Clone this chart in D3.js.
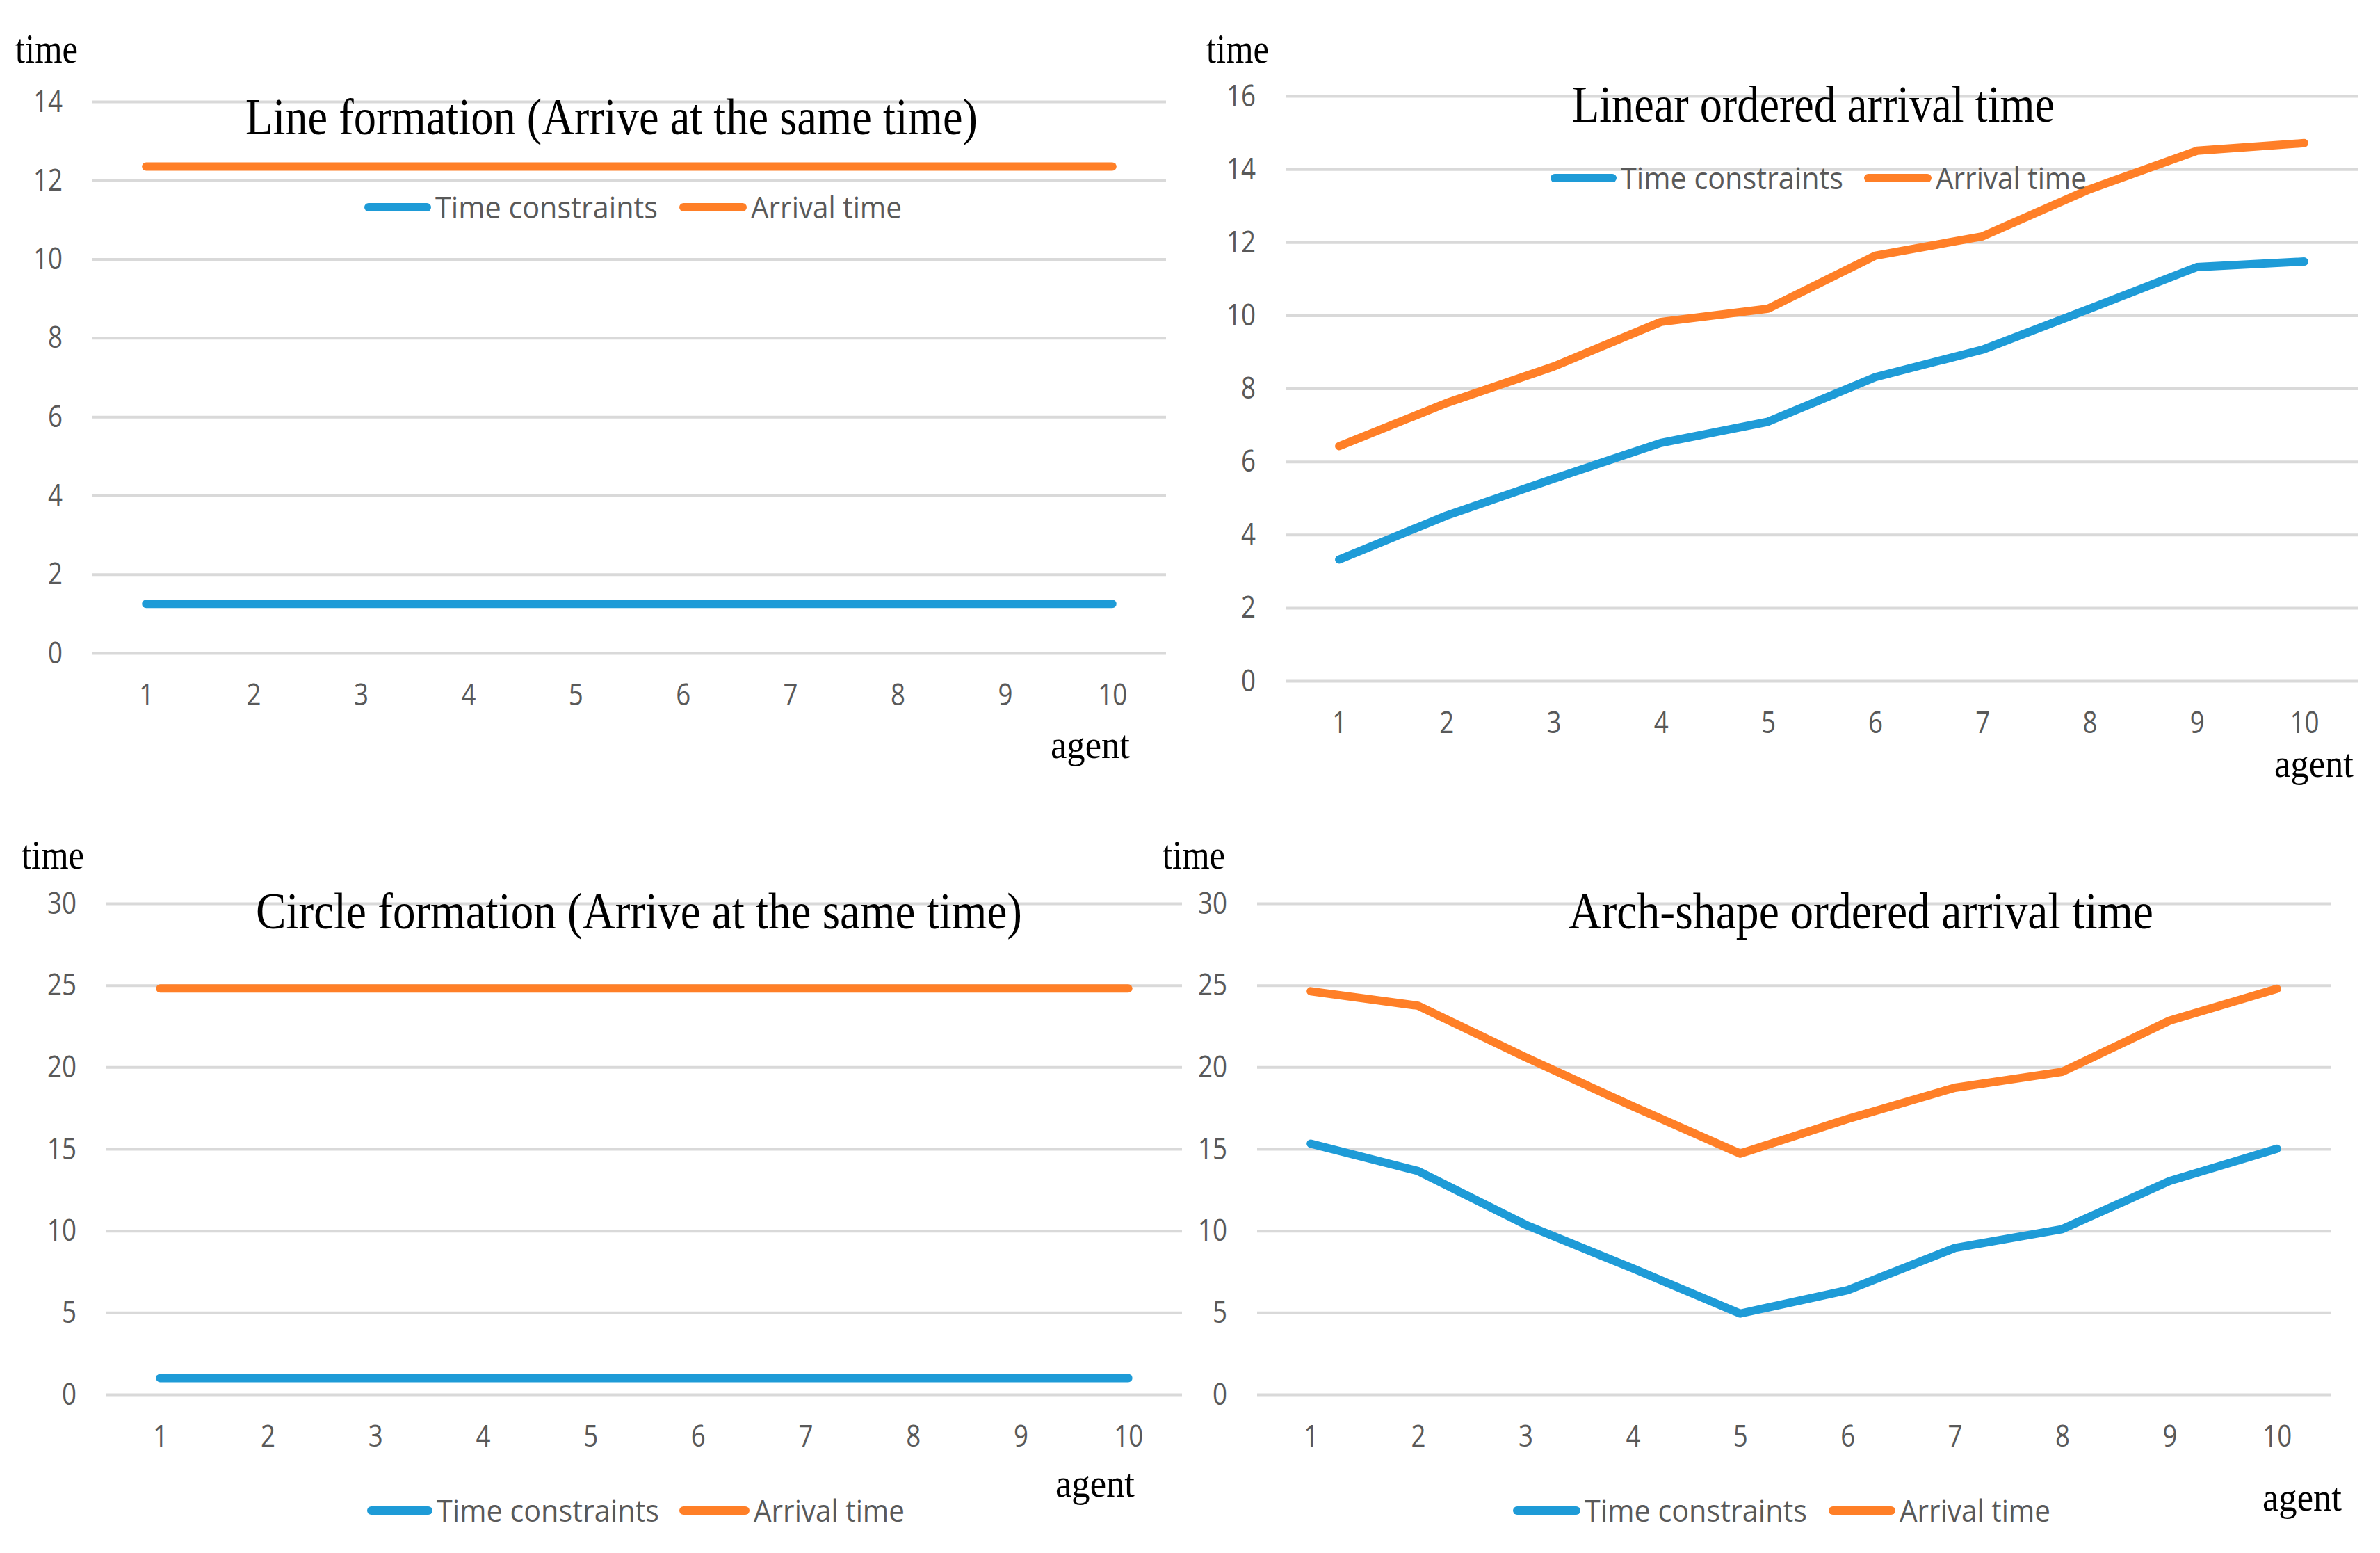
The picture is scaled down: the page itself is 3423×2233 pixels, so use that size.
<!DOCTYPE html>
<html>
<head>
<meta charset="utf-8">
<script src="https://cdn.jsdelivr.net/npm/d3@7"></script>
<style>
  body { margin: 0; background: #fff; }
  svg { display: block; }
  .tick text { font-family: "Open Sans", "Noto Sans", sans-serif; fill: #595959; }
  .serif { font-family: "Liberation Serif", "Times New Roman", serif; fill: #000; }
</style>
</head>
<body>
<svg id="chart" width="3423" height="2233"></svg>
<script>
// ---------- Data ----------
const agents = [1, 2, 3, 4, 5, 6, 7, 8, 9, 10];
const seriesNames = ["Time constraints", "Arrival time"];

const lineConstraints = [1.25, 1.25, 1.25, 1.25, 1.25, 1.25, 1.25, 1.25, 1.25, 1.25];
const lineArrival     = [12.35, 12.35, 12.35, 12.35, 12.35, 12.35, 12.35, 12.35, 12.35, 12.35];

const linearConstraints = [3.32, 4.52, 5.53, 6.51, 7.09, 8.31, 9.06, 10.18, 11.32, 11.47];
const linearArrival     = [6.42, 7.6, 8.6, 9.82, 10.18, 11.63, 12.16, 13.45, 14.5, 14.71];

const circleConstraints = [1.0, 1.0, 1.0, 1.0, 1.0, 1.0, 1.0, 1.0, 1.0, 1.0];
const circleArrival     = [24.8, 24.8, 24.8, 24.8, 24.8, 24.8, 24.8, 24.8, 24.8, 24.8];

const archConstraints = [15.32, 13.65, 10.37, 7.7, 4.94, 6.37, 8.95, 10.1, 13.04, 15.01];
const archArrival     = [24.63, 23.75, 20.6, 17.6, 14.71, 16.83, 18.74, 19.71, 22.84, 24.78];

const ticksSmall = [0, 2, 4, 6, 8, 10, 12, 14];
const ticksLinear = [0, 2, 4, 6, 8, 10, 12, 14, 16];
const ticksBig = [0, 5, 10, 15, 20, 25, 30];

const titles = [
  "Line formation (Arrive at the same time)",
  "Linear ordered arrival time",
  "Circle formation (Arrive at the same time)",
  "Arch-shape ordered arrival time"
];

const BLUE = "#1E9BD7", ORANGE = "#FF7F27";

// ---------- Panels (layout only) ----------
const panels = [
  { a: lineConstraints, b: lineArrival, ticks: ticksSmall, title: titles[0],
    gx: [133, 1677], gy: [939, 146],
    tt: [353, 193, 1053], time: [22, 90], agent: [1511, 1090],
    leg: [298, 524, 626, 977, 1080] },
  { a: linearConstraints, b: linearArrival, ticks: ticksLinear, title: titles[1],
    gx: [1849, 3391], gy: [979, 138],
    tt: [2261, 175, 694], time: [1735, 90], agent: [3271, 1117],
    leg: [256, 2230, 2331, 2681, 2784] },
  { a: circleConstraints, b: circleArrival, ticks: ticksBig, title: titles[2],
    gx: [153, 1700], gy: [2005, 1299],
    tt: [368, 1335, 1102], time: [31, 1249], agent: [1518, 2152],
    leg: [2172, 528, 628, 977, 1084] },
  { a: archConstraints, b: archArrival, ticks: ticksBig, title: titles[3],
    gx: [1808, 3352], gy: [2005, 1299],
    tt: [2256, 1335, 841], time: [1672, 1249], agent: [3254, 2172],
    leg: [2172, 2176, 2279, 2630, 2732] }
];

const svg = d3.select("#chart");
svg.append("rect").attr("width", 3423).attr("height", 2233).attr("fill", "#fff");

function squeeze(sel, perChar) {
  sel.attr("textLength", function() { return this.textContent.length * perChar; })
     .attr("lengthAdjust", "spacingAndGlyphs");
}

panels.forEach(p => {
  const g = svg.append("g");
  const x = d3.scalePoint().domain(agents).range(p.gx).padding(0.5);
  const y = d3.scaleLinear().domain([0, d3.max(p.ticks)]).range(p.gy);
  const w = p.gx[1] - p.gx[0];

  // y axis + gridlines
  const ya = g.append("g").attr("transform", `translate(${p.gx[0]},0)`)
    .call(d3.axisLeft(y).tickValues(p.ticks).tickSize(-w).tickPadding(43));
  ya.select(".domain").remove();
  ya.selectAll(".tick line").attr("stroke", "#D9D9D9").attr("stroke-width", 4);
  ya.selectAll(".tick text").attr("font-size", 44).call(squeeze, 21);

  // x axis
  const xa = g.append("g").attr("transform", `translate(0,${p.gy[0]})`)
    .call(d3.axisBottom(x).tickSize(0).tickPadding(44));
  xa.select(".domain").remove();
  xa.selectAll(".tick text").attr("font-size", 44).call(squeeze, 21);

  // series
  const line = d3.line().x((d, i) => x(agents[i])).y(d => y(d));
  [[p.a, BLUE], [p.b, ORANGE]].forEach(([vals, col]) => {
    g.append("path").datum(vals)
      .attr("fill", "none").attr("stroke", col).attr("stroke-width", 12)
      .attr("stroke-linecap", "round").attr("stroke-linejoin", "round")
      .attr("d", line);
  });

  // title
  g.append("text").attr("class", "serif")
    .attr("x", p.tt[0]).attr("y", p.tt[1]).attr("font-size", 74)
    .attr("textLength", p.tt[2]).attr("lengthAdjust", "spacingAndGlyphs")
    .text(p.title);

  // axis names
  g.append("text").attr("class", "serif")
    .attr("x", p.time[0]).attr("y", p.time[1]).attr("font-size", 60)
    .attr("textLength", 90).attr("lengthAdjust", "spacingAndGlyphs")
    .text("time");
  g.append("text").attr("class", "serif")
    .attr("x", p.agent[0]).attr("y", p.agent[1]).attr("font-size", 58)
    .attr("textLength", 114).attr("lengthAdjust", "spacingAndGlyphs")
    .text("agent");

  // legend
  const [ly, bx, btx, ox, otx] = p.leg;
  const items = [[bx, btx, BLUE, seriesNames[0], 320], [ox, otx, ORANGE, seriesNames[1], 217]];
  items.forEach(([lx, tx, col, name, len]) => {
    g.append("line").attr("x1", lx + 6).attr("x2", tx - 12).attr("y1", ly).attr("y2", ly)
      .attr("stroke", col).attr("stroke-width", 12).attr("stroke-linecap", "round");
    g.append("text").attr("x", tx).attr("y", ly).attr("dy", "0.36em")
      .attr("font-family", "'Open Sans', 'Noto Sans', sans-serif")
      .attr("font-size", 44).attr("fill", "#595959")
      .attr("textLength", len).attr("lengthAdjust", "spacingAndGlyphs")
      .text(name);
  });
});
</script>
</body>
</html>
